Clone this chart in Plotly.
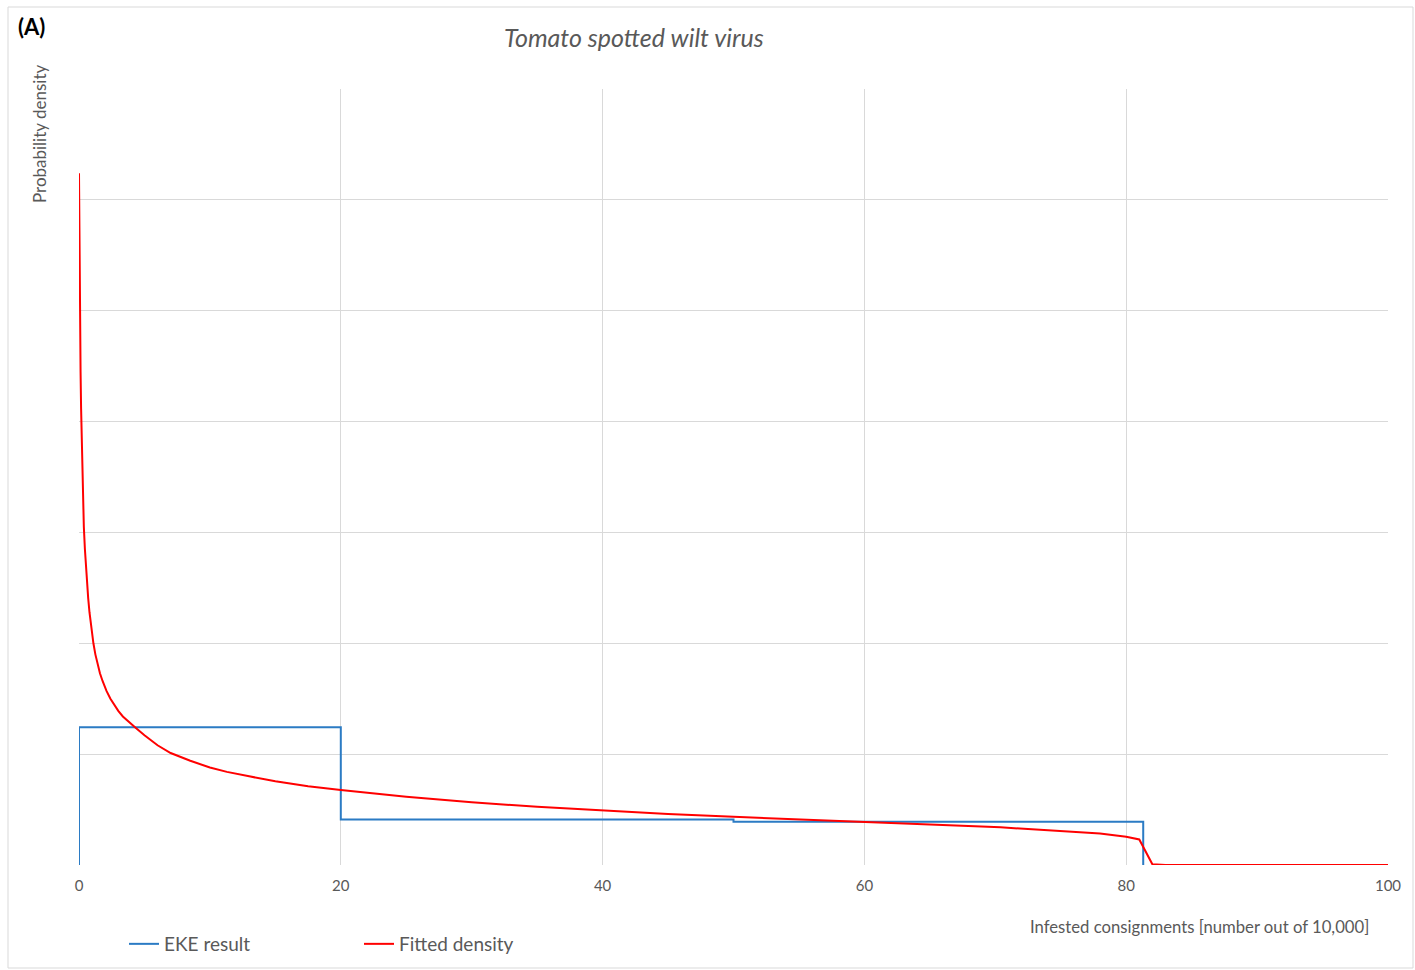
import plotly.graph_objects as go

# ---- data ----
eke_edges = [0, 20, 50, 81.3]          # interval bounds (number out of 10,000)
eke_density = [1.243, 0.41, 0.39]      # EKE densities (grid units)

fit_x = [0, 0.02, 0.05, 0.08, 0.12, 0.16, 0.2, 0.25, 0.3, 0.37, 0.45, 0.52, 0.6,
         0.7, 0.8, 0.95, 1.1, 1.25, 1.4, 1.6, 1.8, 2.1, 2.4, 2.7, 3.0, 3.35, 3.7,
         4.3, 5.0, 6.0, 7.0, 8.5, 10, 11.3, 13, 15, 17.5, 20, 25, 30, 35,
         40, 45, 50, 55, 60, 65, 70.4, 75, 78, 80, 81, 82, 83, 100]
fit_y = [6.24, 5.8, 5.25, 4.85, 4.45, 4.12, 3.85, 3.55, 3.3, 3.05, 2.85, 2.7, 2.55,
         2.41, 2.28, 2.13, 2.0, 1.9, 1.82, 1.73, 1.66, 1.57, 1.5, 1.44, 1.39,
         1.34, 1.3, 1.24, 1.17, 1.08, 1.01, 0.94, 0.88, 0.84, 0.8, 0.755, 0.71,
         0.676, 0.615, 0.565, 0.525, 0.49, 0.46, 0.435, 0.41, 0.39, 0.365, 0.34,
         0.31, 0.285, 0.255, 0.23, 0.006, 0.0, 0.0]

x_ticks = [0, 20, 40, 60, 80, 100]

# build step outline from EKE edges/densities
step_x, step_y = [eke_edges[0]], [0]
for i, d in enumerate(eke_density):
    step_x += [eke_edges[i], eke_edges[i + 1]]
    step_y += [d, d]
step_x.append(eke_edges[-1])
step_y.append(0)

FONT = "Lato"
GREY = "#595959"

fig = go.Figure()
fig.add_trace(go.Scatter(x=step_x, y=step_y, mode="lines", name="EKE result",
                         line=dict(color="#2b7bc4", width=2)))
fig.add_trace(go.Scatter(x=fit_x, y=fit_y, mode="lines", name="Fitted density",
                         line=dict(color="#ff0000", width=2)))

W, H = 1415, 970
L, R, T, B = 79, 1388, 89, 865
pw, ph = R - L, B - T

def px(x):
    return (x - L) / pw

def py(y):
    return (B - y) / ph

fig.update_layout(
    width=W, height=H,
    margin=dict(l=L, r=W - R, t=T, b=H - B, pad=0, autoexpand=False),
    paper_bgcolor="white", plot_bgcolor="white",
    font=dict(family=FONT, color=GREY),
    showlegend=True,
    legend=dict(orientation="h", x=px(124), y=py(944), xanchor="left", yanchor="middle",
                font=dict(size=19, color=GREY, family=FONT),
                entrywidth=190, entrywidthmode="pixels", itemwidth=30,
                bgcolor="rgba(0,0,0,0)"),
    xaxis=dict(range=[0, 100], tickvals=x_ticks, ticks="", showline=False,
               showgrid=True, gridcolor="#d9d9d9", gridwidth=1, zeroline=False,
               tickfont=dict(size=15, color=GREY, family=FONT), ticklabelstandoff=10),
    yaxis=dict(range=[0, 7], dtick=1, showticklabels=False, ticks="", showline=False,
               showgrid=True, gridcolor="#d9d9d9", gridwidth=1, zeroline=False),
)

fig.add_annotation(text="Tomato spotted wilt virus", x=px(634), y=py(37),
                   xref="paper", yref="paper", showarrow=False,
                   xanchor="center", yanchor="middle",
                   font=dict(size=25, color=GREY, family=FONT, style="italic"))
fig.add_annotation(text="<b>(A)</b>", x=px(16), y=py(26),
                   xref="paper", yref="paper", showarrow=False,
                   xanchor="left", yanchor="middle",
                   font=dict(size=22, color="black", family=FONT))
fig.add_annotation(text="Probability density", x=px(39), y=py(134),
                   xref="paper", yref="paper", showarrow=False, textangle=-90,
                   xanchor="center", yanchor="middle",
                   font=dict(size=17, color=GREY, family=FONT))
fig.add_annotation(text="Infested consignments [number out of 10,000]", x=px(1371), y=py(927),
                   xref="paper", yref="paper", showarrow=False,
                   xanchor="right", yanchor="middle",
                   font=dict(size=16.7, color=GREY, family=FONT))

# outer chart border
fig.add_shape(type="rect", xref="paper", yref="paper",
              x0=px(8), x1=px(1413), y0=py(7), y1=py(968),
              line=dict(color="#d9d9d9", width=1), layer="below")

fig.write_html("out.html", config={"displayModeBar": False},
               post_script="document.body.style.margin='0';")
